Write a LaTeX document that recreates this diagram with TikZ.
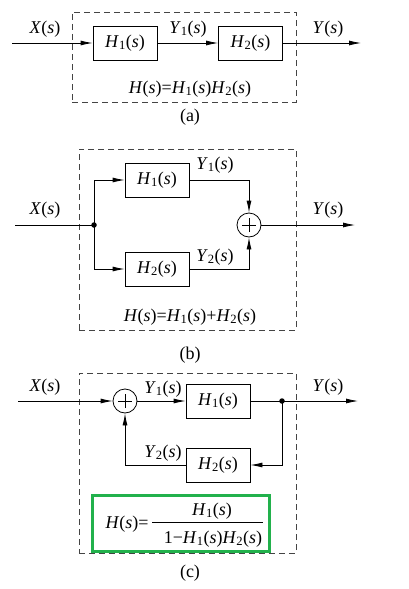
\documentclass[tikz,border=0pt]{standalone}
\usepackage{fontspec}
\setmainfont{Liberation Serif}
\usetikzlibrary{arrows.meta}
\newcommand{\myH}[1]{\textit{H}\textsubscript{#1}(\textit{s})}
\newcommand{\myY}[1]{\textit{Y}\textsubscript{#1}(\textit{s})}
\newcommand{\Hn}{\textit{H}(\textit{s})}
\newcommand{\Yn}{\textit{Y}(\textit{s})}
\newcommand{\Xn}{\textit{X}(\textit{s})}
\definecolor{boxgreen}{HTML}{22B14C}
\definecolor{dashgray}{HTML}{444444}
\tikzset{
  blk/.style={draw, line width=0.8pt, minimum width=64pt, minimum height=34pt, inner sep=0pt, font=\fontsize{18}{21}\selectfont},
  lbl/.style={inner sep=0pt, font=\fontsize{18}{21}\selectfont},
  arr/.style={line width=0.8pt, -{Latex[length=12pt,width=5pt]}},
  ln/.style={line width=0.8pt},
  sumc/.style={draw, circle, line width=0.8pt, minimum size=24pt, inner sep=0pt},
  dot/.style={circle, fill, minimum size=5.5pt, inner sep=0pt},
  dbox/.style={draw=dashgray, line width=0.8pt, dash pattern=on 6pt off 4pt, inner sep=0pt},
  gbox/.style={draw=boxgreen, line width=3pt, inner sep=0pt}
}
\begin{document}
\begin{tikzpicture}[x=1pt,y=-1pt]
\useasboundingbox (0,0) rectangle (408,589);
% ---------- (a)
\node[dbox, minimum width=224pt, minimum height=90pt] (abox) at (184,57) {};
\node[blk] (a1) at (125,43) {\myH{1}};
\node[blk] (a2) at (250.5,43) {\myH{2}};
\coordinate (ain) at (12,43);
\coordinate (aout) at (361,43);
\draw[arr] (ain) -- (a1);
\draw[arr] (a1) -- (a2);
\draw[arr] (a2) -- (aout);
\node[lbl] (ax) at (45,29) {\Xn};
\node[lbl] (ay1) at (188,29) {\myY{1}};
\node[lbl] (ay) at (328,29) {\Yn};
\node[lbl] (aeq) at (190,89) {\Hn=\myH{1}\myH{2}};
\node[lbl] (acap) at (190,117) {(a)};
% ---------- (b)
\node[dbox, minimum width=217pt, minimum height=181pt] (bbox) at (187.5,239.5) {};
\node[blk] (b1) at (157,180) {\myH{1}};
\node[blk] (b2) at (157,269) {\myH{2}};
\node[sumc] (bs) at (249,225) {};
\draw[ln] ([xshift=-7pt]bs.center) -- ([xshift=7pt]bs.center);
\draw[ln] ([yshift=-7pt]bs.center) -- ([yshift=7pt]bs.center);
\node[dot] (bj) at (94,225) {};
\coordinate (bin) at (15,225);
\coordinate (bout) at (355,225);
\draw[ln] (bin) -- (bj.center);
\draw[arr] (bj.center) |- (b1);
\draw[arr] (bj.center) |- (b2);
\draw[arr] (b1.east) -| (bs.north);
\draw[arr] (b2.east) -| (bs.south);
\draw[arr] (bs) -- (bout);
\node[lbl] (bx) at (45,210) {\Xn};
\node[lbl] (by1) at (215,165) {\myY{1}};
\node[lbl] (by2) at (215,257) {\myY{2}};
\node[lbl] (by) at (328,210) {\Yn};
\node[lbl] (beq) at (190,317) {\Hn=\myH{1}+\myH{2}};
\node[lbl] (bcap) at (190,355) {(b)};
% ---------- (c)
\node[dbox, minimum width=217pt, minimum height=180pt] (cbox) at (187.5,463) {};
\node[sumc] (cs) at (125,401) {};
\draw[ln] ([xshift=-7pt]cs.center) -- ([xshift=7pt]cs.center);
\draw[ln] ([yshift=-7pt]cs.center) -- ([yshift=7pt]cs.center);
\node[blk] (c1) at (218,401) {\myH{1}};
\node[blk] (c2) at (218,465) {\myH{2}};
\node[dot] (cj) at (282,401) {};
\coordinate (cin) at (18,401);
\coordinate (cout) at (358,401);
\draw[arr] (cin) -- (cs);
\draw[arr] (cs) -- (c1);
\draw[ln] (c1) -- (cj.center);
\draw[arr] (cj.center) -- (cout);
\draw[arr] (cj.center) |- (c2);
\draw[arr] (c2) -| (cs);
\node[lbl] (cx) at (45,387) {\Xn};
\node[lbl] (cy1) at (163,389) {\myY{1}};
\node[lbl] (cy2) at (163,453) {\myY{2}};
\node[lbl] (cy) at (328,387) {\Yn};
\node[gbox, minimum width=177pt, minimum height=56pt] (cg) at (181,523.5) {};
\node[lbl] (ceqa) at (127,524) {\Hn=};
\node[lbl] (cnum) at (212,511) {\myH{1}};
\node[lbl] (cden) at (213,539) {1−\myH{1}\myH{2}};
\coordinate (fl) at (152,522);
\coordinate (fr) at (263,522);
\draw[line width=0.6pt] (fl) -- (fr);
\node[lbl] (ccap) at (190,573) {(c)};
\end{tikzpicture}
\end{document}
